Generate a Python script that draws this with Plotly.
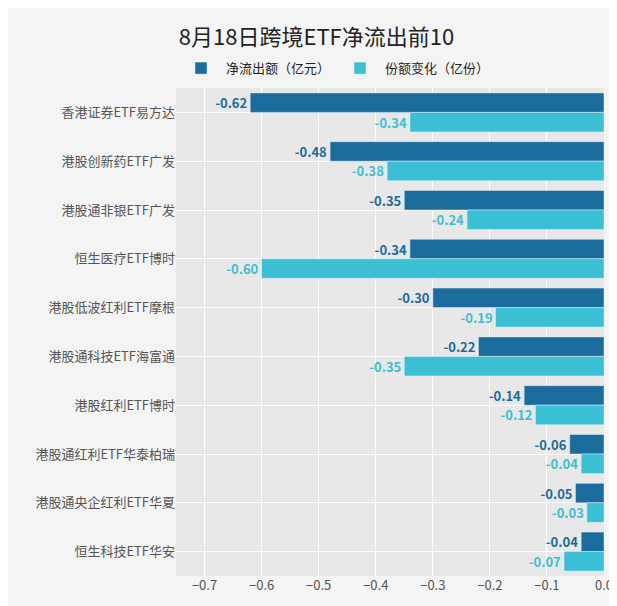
import plotly.graph_objects as go

funds = ["香港证券ETF易方达", "港股创新药ETF广发", "港股通非银ETF广发", "恒生医疗ETF博时",
         "港股低波红利ETF摩根", "港股通科技ETF海富通", "港股红利ETF博时", "港股通红利ETF华泰柏瑞",
         "港股通央企红利ETF华夏", "恒生科技ETF华安"]
net_outflow = [-0.62, -0.48, -0.35, -0.34, -0.30, -0.22, -0.14, -0.06, -0.05, -0.04]
share_change = [-0.34, -0.38, -0.24, -0.60, -0.19, -0.35, -0.12, -0.04, -0.03, -0.07]

dark = "#1a6c9c"
light = "#3bbfd4"

fig = go.Figure()
fig.add_trace(go.Bar(y=funds, x=net_outflow, orientation="h", name="净流出额（亿元）",
                     marker_color=dark, text=[f"<b>{v:.2f}</b>" for v in net_outflow],
                     textposition="outside", cliponaxis=False,
                     textfont=dict(color=dark, size=13, family="Noto Sans CJK SC")))
fig.add_trace(go.Bar(y=funds, x=share_change, orientation="h", name="份额变化（亿份）",
                     marker_color=light, text=[f"<b>{v:.2f}</b>" for v in share_change],
                     textposition="outside", cliponaxis=False,
                     textfont=dict(color=light, size=13, family="Noto Sans CJK SC")))

fig.update_layout(
    width=617, height=606,
    title=dict(text="8月18日跨境ETF净流出前10", x=0.5, y=0.965, xanchor="center",
               font=dict(size=22, color="#222", family="Noto Sans CJK SC")),
    barmode="group", bargap=0.2, bargroupgap=0,
    paper_bgcolor="#f4f4f4", plot_bgcolor="#e8e8e8",
    font=dict(family="Noto Sans CJK SC", size=13, color="#555"),
    legend=dict(orientation="h", x=0.0, xanchor="left", y=1.01, yanchor="bottom",
                font=dict(size=13, color="#222"), bgcolor="rgba(0,0,0,0)",
                itemwidth=40),
    margin=dict(l=168, r=19, t=80, b=38),
    xaxis=dict(range=[-0.75, 0.0], dtick=0.1, tickformat=".1f", gridcolor="white",
               zeroline=False, showline=False, ticks=""),
    yaxis=dict(autorange="reversed", showgrid=True, gridcolor="white", ticks=""),
)
fig.write_html("out.html")
